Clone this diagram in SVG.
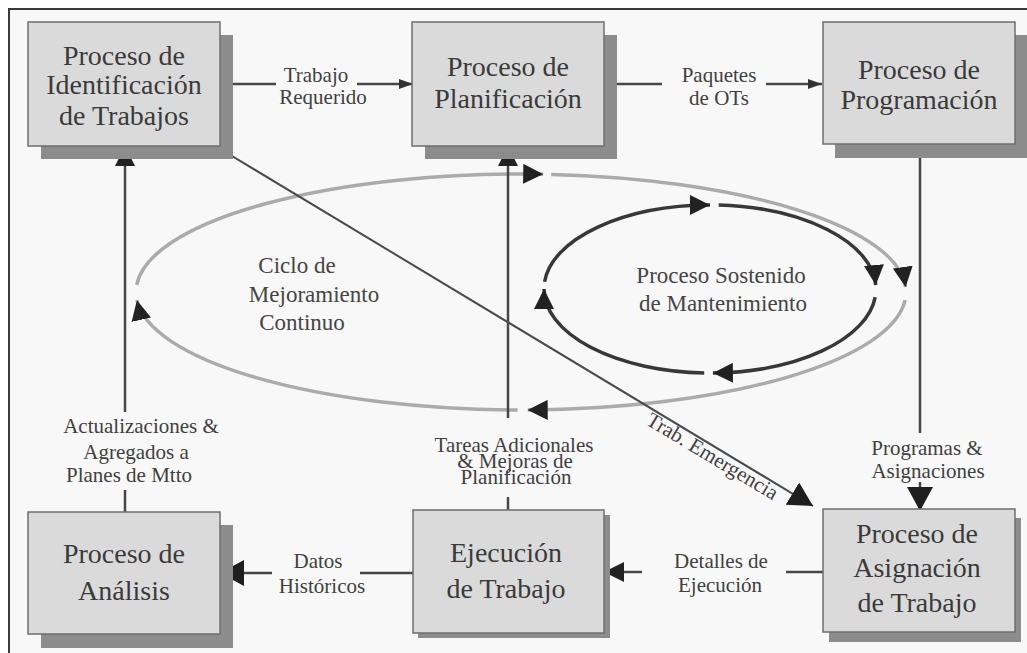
<svg xmlns="http://www.w3.org/2000/svg" width="1027" height="653" viewBox="0 0 1027 653">
  <style>
    .frame { fill: none; stroke: #3a3a3a; stroke-width: 2; }
    .shadow { fill: #8c8c8c; }
    .box { fill: #dadada; stroke: #6e6e6e; stroke-width: 1.5; }
    text { font-family: "Liberation Serif", "DejaVu Serif", "Noto Serif", serif; }
    .title { font-size: 28px; fill: #3a3a3a; text-anchor: middle; }
    .lbl { font-size: 21px; fill: #404040; text-anchor: middle; }
    .cyc { font-size: 23px; fill: #454545; text-anchor: middle; }
    .wire { fill: none; stroke: #474747; stroke-width: 2.5; }
    .thin { fill: none; stroke: #4a4a4a; stroke-width: 2; }
    .outer { fill: none; stroke: #ababab; stroke-width: 3.5; }
    .inner { fill: none; stroke: #383838; stroke-width: 3.5; }
  </style>
  <defs>
    <marker id="arrow-sm" markerUnits="userSpaceOnUse" markerWidth="14" markerHeight="10" viewBox="0 0 14 10" refX="14" refY="5" orient="auto">
      <path d="M0,0 L14,5 L0,10 Z" fill="#333"/>
    </marker>
    <marker id="arrow-md" markerUnits="userSpaceOnUse" markerWidth="20" markerHeight="20" viewBox="0 0 20 20" refX="20" refY="10" orient="auto">
      <path d="M0,0 L20,10 L0,20 Z" fill="#222"/>
    </marker>
    <marker id="arrow-lg" markerUnits="userSpaceOnUse" markerWidth="24" markerHeight="26" viewBox="0 0 24 26" refX="24" refY="13" orient="auto">
      <path d="M0,0 L24,13 L0,26 Z" fill="#1e1e1e"/>
    </marker>
  </defs>

  <!-- page and frame -->
  <rect x="0" y="0" width="1027" height="653" fill="#ffffff"/>
  <rect x="9" y="9" width="1030" height="660" fill="#f8f8f8"/>
  <path class="frame" d="M9,660 V9 H1035"/>

  <g font-family="Liberation Serif, DejaVu Serif, serif">
  <!-- cycles -->
  <g id="ciclo-mejoramiento">
    <path class="outer" d="M136.7,284.8 A385,118 0 0 1 543.2,174.2" marker-end="url(#arrow-md)"/>
    <path class="outer" d="M551.2,174.4 A385,118 0 0 1 905.6,286.9" marker-end="url(#arrow-md)"/>
    <path class="outer" d="M905.1,300.2 A385,118 0 0 1 527.7,410" marker-end="url(#arrow-md)"/>
    <path class="outer" d="M517.6,410 A385,118 0 0 1 136.9,300.2" marker-end="url(#arrow-md)"/>
    <text class="cyc" x="297" y="273">Ciclo de</text>
    <text class="cyc" x="314" y="302">Mejoramiento</text>
    <text class="cyc" x="302" y="330">Continuo</text>
  </g>
  <g id="proceso-sostenido">
    <path class="inner" d="M544.6,281.7 A166,84 0 0 1 710,205" marker-end="url(#arrow-md)"/>
    <path class="inner" d="M718.7,205.1 A166,84 0 0 1 875.8,285" marker-end="url(#arrow-md)"/>
    <path class="inner" d="M875.2,297.1 A166,84 0 0 1 712.9,373" marker-end="url(#arrow-md)"/>
    <path class="inner" d="M704.2,372.9 A166,84 0 0 1 544,289" marker-end="url(#arrow-md)"/>
    <text class="cyc" x="721" y="283">Proceso Sostenido</text>
    <text class="cyc" x="723" y="311">de Mantenimiento</text>
  </g>

  <!-- connectors -->
  <g id="connectors">
    <path class="wire" d="M220,84 H276"/>
    <path class="wire" d="M357,84 H413" marker-end="url(#arrow-sm)"/>
    <text class="lbl" x="316" y="82">Trabajo</text>
    <text class="lbl" x="323" y="104">Requerido</text>

    <path class="wire" d="M604,84 H662"/>
    <path class="wire" d="M766,84 H822" marker-end="url(#arrow-sm)"/>
    <text class="lbl" x="719" y="82">Paquetes</text>
    <text class="lbl" x="719" y="105">de OTs</text>

    <path class="wire" d="M920,143 V433"/>
    <path class="wire" d="M920,482 V511" marker-end="url(#arrow-lg)"/>
    <text class="lbl" x="927" y="455">Programas &amp;</text>
    <text class="lbl" x="928" y="478">Asignaciones</text>

    <path class="wire" d="M823,572 H786"/>
    <path class="wire" d="M642,572 H604" marker-end="url(#arrow-md)"/>
    <text class="lbl" x="721" y="568">Detalles de</text>
    <text class="lbl" x="720" y="592">Ejecución</text>

    <path class="wire" d="M413,573 H360"/>
    <path class="wire" d="M272,573 H220" marker-end="url(#arrow-lg)"/>
    <text class="lbl" x="318" y="568">Datos</text>
    <text class="lbl" x="322" y="593">Históricos</text>

    <path class="wire" d="M125,512 V490"/>
    <path class="wire" d="M125,412 V146" marker-end="url(#arrow-md)"/>
    <text class="lbl" x="141" y="433">Actualizaciones &amp;</text>
    <text class="lbl" x="136" y="459">Agregados a</text>
    <text class="lbl" x="129" y="482">Planes de  Mtto</text>

    <path class="wire" d="M508,510 V497"/>
    <path class="wire" d="M508,418 V146" marker-end="url(#arrow-md)"/>
    <text class="lbl" x="514" y="452" font-size="20">Tareas Adicionales</text>
    <text class="lbl" x="515" y="468" font-size="20">&amp; Mejoras de</text>
    <text class="lbl" x="516" y="484" font-size="20">Planificación</text>

    <path class="thin" d="M222,150 L813,506" marker-end="url(#arrow-lg)"/>
    <text class="lbl" transform="translate(712,457) rotate(31)" x="0" y="6">Trab. Emergencia</text>
  </g>

  <!-- process nodes -->
  <g id="identificacion">
    <rect class="shadow" x="41" y="35" width="192" height="124"/>
    <rect class="box" x="28" y="22" width="192" height="124"/>
    <text class="title" x="124" y="65">Proceso de</text>
    <text class="title" x="124" y="94">Identificación</text>
    <text class="title" x="124" y="125">de Trabajos</text>
  </g>
  <g id="planificacion">
    <rect class="shadow" x="425" y="35" width="192" height="124"/>
    <rect class="box" x="412" y="22" width="192" height="124"/>
    <text class="title" x="508" y="76">Proceso de</text>
    <text class="title" x="508" y="108">Planificación</text>
  </g>
  <g id="programacion">
    <rect class="shadow" x="835" y="35" width="192" height="123"/>
    <rect class="box" x="823" y="22" width="192" height="122"/>
    <text class="title" x="919" y="79">Proceso de</text>
    <text class="title" x="919" y="109">Programación</text>
  </g>
  <g id="analisis">
    <rect class="shadow" x="41" y="525" width="192" height="123"/>
    <rect class="box" x="28" y="512" width="192" height="122"/>
    <text class="title" x="124" y="563">Proceso de</text>
    <text class="title" x="124" y="600">Análisis</text>
  </g>
  <g id="ejecucion">
    <rect class="shadow" x="418" y="515" width="192" height="123"/>
    <rect class="box" x="413" y="510" width="191" height="123"/>
    <text class="title" x="506" y="562">Ejecución</text>
    <text class="title" x="506" y="598">de Trabajo</text>
  </g>
  <g id="asignacion">
    <rect class="shadow" x="829" y="518" width="192" height="124"/>
    <rect class="box" x="823" y="509" width="192" height="123"/>
    <text class="title" x="917" y="543">Proceso de</text>
    <text class="title" x="917" y="577">Asignación</text>
    <text class="title" x="917" y="612">de Trabajo</text>
  </g>
  </g>
</svg>
